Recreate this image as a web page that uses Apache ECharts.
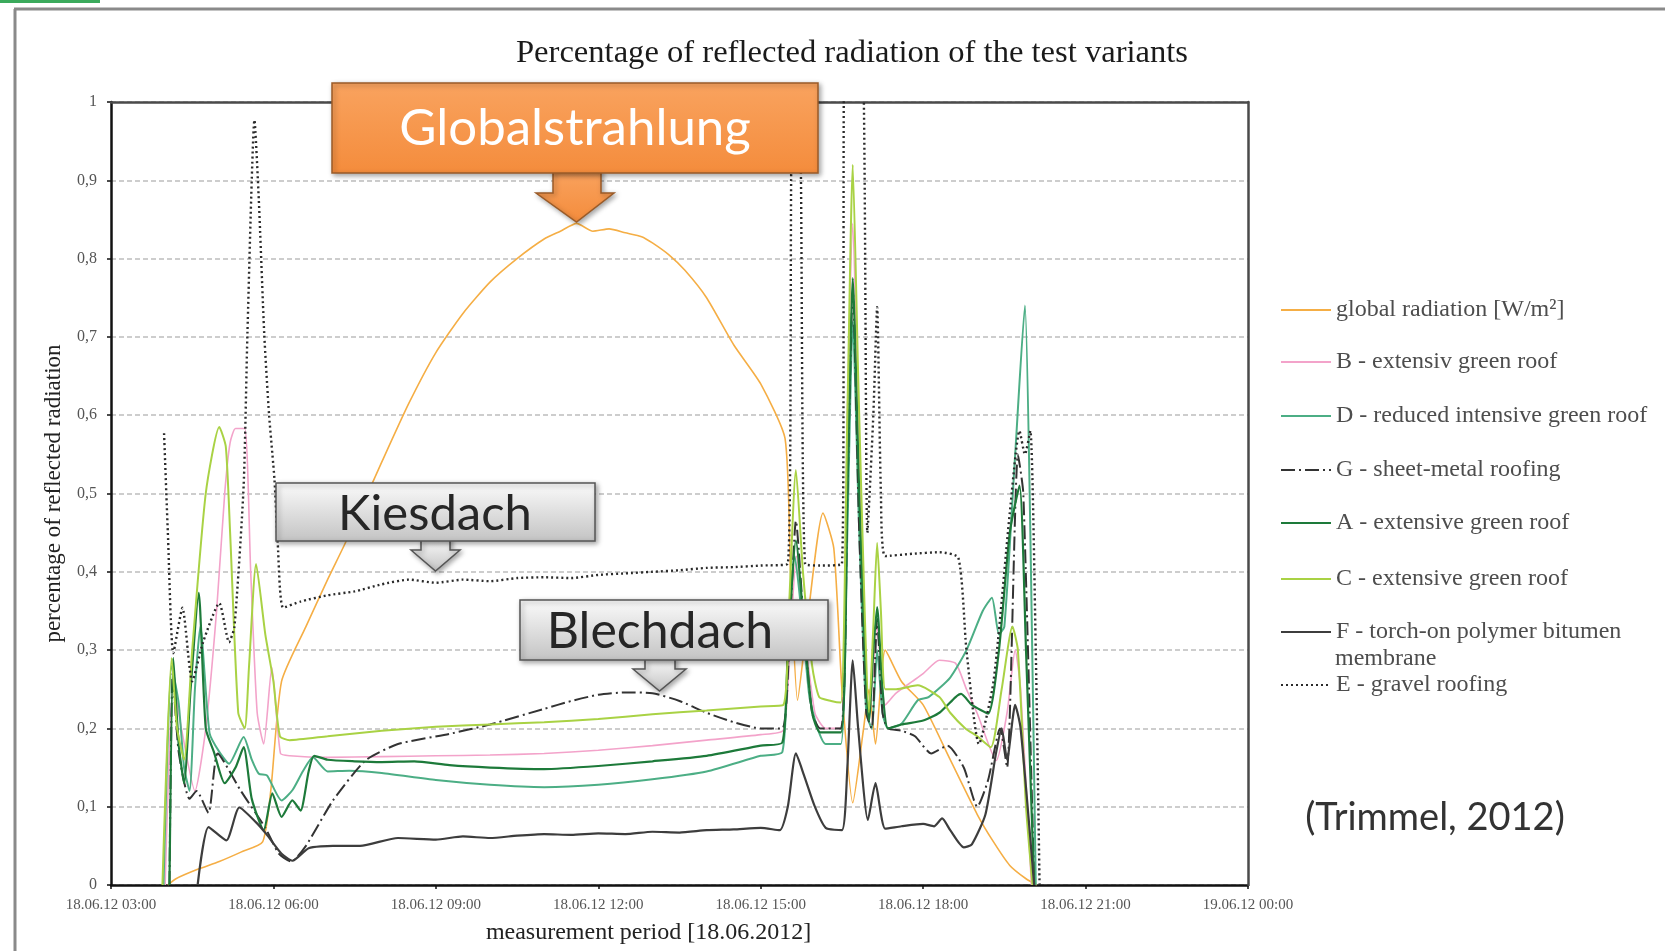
<!DOCTYPE html>
<html>
<head>
<meta charset="utf-8">
<script src="https://cdn.jsdelivr.net/npm/echarts@6/dist/echarts.min.js"></script>
<style>html,body{margin:0;padding:0;background:#fff;}#chart{width:1665px;height:951px;}</style>
</head>
<body>
<div id="chart"></div>
<script>
// ---------- DATA (hour of 18.06.2012, share of reflected radiation) ----------
const xTickLabels = ['18.06.12 03:00','18.06.12 06:00','18.06.12 09:00','18.06.12 12:00','18.06.12 15:00','18.06.12 18:00','18.06.12 21:00','19.06.12 00:00'];
const yTickLabels = ['0','0,1','0,2','0,3','0,4','0,5','0,6','0,7','0,8','0,9','1'];

const seriesNames = [
  'global radiation [W/m²]',
  'B - extensiv green roof',
  'D - reduced intensive green roof',
  'G - sheet-metal roofing',
  'A - extensive green roof',
  'C - extensive green roof',
  'F - torch-on polymer bitumen',
  'E - gravel roofing'
];

const globalRadiation = [[4.05,0],[4.2,0.008],[4.6,0.02],[5.0,0.03],[5.4,0.042],[5.8,0.055],[5.95,0.12],[6.15,0.26],[6.6,0.33],[7.0,0.39],[7.35,0.44],[8.0,0.54],[8.5,0.615],[9.0,0.68],[9.5,0.73],[10.0,0.77],[10.5,0.8],[11.0,0.825],[11.3,0.835],[11.6,0.845],[11.9,0.835],[12.2,0.838],[12.5,0.833],[12.8,0.828],[13.0,0.82],[13.3,0.805],[13.6,0.785],[14.0,0.75],[14.5,0.69],[15.0,0.64],[15.45,0.57],[15.55,0.4],[15.68,0.236],[15.85,0.33],[16.15,0.475],[16.35,0.43],[16.5,0.25],[16.7,0.105],[16.9,0.2],[17.0,0.25],[17.12,0.18],[17.3,0.30],[17.6,0.26],[18.0,0.23],[18.5,0.16],[19.0,0.09],[19.3,0.055],[19.6,0.025],[19.9,0.008],[20.1,0]];

const extensiveB = [[4.0,0],[4.15,0.26],[4.3,0.2],[4.55,0.12],[4.75,0.2],[4.95,0.35],[5.1,0.5],[5.2,0.565],[5.3,0.583],[5.47,0.583],[5.58,0.4],[5.7,0.22],[5.82,0.18],[5.97,0.278],[6.13,0.168],[6.3,0.165],[7,0.163],[8,0.164],[9,0.165],[10,0.166],[11,0.168],[12,0.172],[13,0.178],[14,0.185],[15,0.192],[15.42,0.198],[15.55,0.32],[15.66,0.42],[15.8,0.33],[16.0,0.22],[16.2,0.2],[16.48,0.2],[16.6,0.6],[16.7,0.845],[16.8,0.6],[16.93,0.3],[17.0,0.21],[17.15,0.33],[17.3,0.23],[17.5,0.245],[17.8,0.26],[18.0,0.27],[18.3,0.287],[18.6,0.283],[18.8,0.25],[19.0,0.219],[19.35,0.159],[19.55,0.22],[19.7,0.3],[19.8,0.25],[20.0,0]];

const intensiveD = [[3.97,0],[4.12,0.28],[4.25,0.232],[4.35,0.15],[4.45,0.12],[4.55,0.25],[4.65,0.33],[4.82,0.194],[5.0,0.17],[5.18,0.155],[5.45,0.189],[5.6,0.16],[5.73,0.142],[5.88,0.14],[6.15,0.108],[6.35,0.121],[6.55,0.146],[6.73,0.163],[7.0,0.145],[7.4,0.146],[8,0.143],[9,0.134],[10,0.128],[11,0.125],[12,0.128],[13,0.135],[14,0.145],[15,0.165],[15.4,0.17],[15.5,0.3],[15.63,0.42],[15.75,0.35],[15.9,0.24],[16.05,0.2],[16.2,0.18],[16.48,0.18],[16.6,0.45],[16.7,0.72],[16.82,0.45],[16.95,0.22],[17.05,0.2],[17.15,0.3],[17.25,0.22],[17.35,0.2],[17.6,0.206],[17.9,0.236],[18.1,0.24],[18.5,0.265],[18.8,0.3],[19.1,0.35],[19.27,0.367],[19.4,0.32],[19.5,0.33],[19.7,0.55],[19.88,0.74],[19.98,0.45],[20.08,0]];

const sheetMetalG = [[4.08,0],[4.14,0.27],[4.25,0.17],[4.45,0.11],[4.58,0.12],[4.8,0.092],[4.97,0.168],[5.4,0.12],[5.85,0.073],[6.1,0.04],[6.33,0.03],[6.6,0.05],[7.1,0.108],[7.7,0.159],[8.3,0.18],[9.25,0.193],[10,0.205],[11,0.225],[11.5,0.235],[12,0.243],[12.5,0.246],[13,0.245],[13.5,0.235],[14,0.22],[14.5,0.208],[15,0.2],[15.4,0.2],[15.55,0.35],[15.65,0.465],[15.8,0.33],[15.95,0.22],[16.1,0.2],[16.48,0.2],[16.6,0.5],[16.7,0.76],[16.82,0.45],[16.95,0.22],[17.05,0.2],[17.15,0.34],[17.25,0.22],[17.35,0.2],[17.6,0.197],[17.85,0.19],[18.15,0.168],[18.45,0.178],[18.75,0.15],[19.0,0.1],[19.2,0.134],[19.42,0.2],[19.55,0.15],[19.75,0.55],[19.85,0.5],[20.05,0]];

const extensiveA = [[4.08,0],[4.15,0.29],[4.25,0.18],[4.35,0.13],[4.47,0.25],[4.62,0.373],[4.75,0.2],[4.9,0.17],[5.1,0.13],[5.3,0.15],[5.45,0.176],[5.6,0.11],[5.82,0.07],[5.98,0.117],[6.15,0.087],[6.35,0.108],[6.5,0.095],[6.65,0.145],[6.75,0.165],[7,0.16],[7.5,0.158],[8,0.157],[8.6,0.158],[9.25,0.153],[10,0.15],[11,0.148],[12,0.152],[13,0.158],[14,0.165],[15,0.178],[15.4,0.182],[15.5,0.3],[15.65,0.44],[15.8,0.33],[15.95,0.22],[16.1,0.195],[16.48,0.195],[16.6,0.5],[16.7,0.775],[16.82,0.5],[16.95,0.25],[17.0,0.21],[17.08,0.3],[17.15,0.355],[17.25,0.25],[17.35,0.2],[17.6,0.205],[18.0,0.21],[18.3,0.22],[18.6,0.24],[18.7,0.244],[18.9,0.23],[19.2,0.219],[19.4,0.3],[19.6,0.45],[19.78,0.51],[19.9,0.3],[20.05,0]];

const extensiveC = [[3.95,0],[4.12,0.29],[4.22,0.2],[4.35,0.16],[4.5,0.3],[4.75,0.5],[5.0,0.585],[5.12,0.56],[5.2,0.45],[5.35,0.22],[5.47,0.2],[5.55,0.28],[5.68,0.41],[5.85,0.32],[6.0,0.26],[6.12,0.19],[6.3,0.185],[7.0,0.19],[8.0,0.197],[9.0,0.202],[10.0,0.205],[11.0,0.208],[12.0,0.212],[13.0,0.218],[14.0,0.223],[15.0,0.228],[15.42,0.23],[15.52,0.35],[15.65,0.53],[15.78,0.4],[15.95,0.28],[16.08,0.24],[16.3,0.235],[16.48,0.233],[16.6,0.6],[16.7,0.92],[16.8,0.65],[16.92,0.35],[17.0,0.22],[17.08,0.33],[17.15,0.437],[17.22,0.35],[17.3,0.25],[17.5,0.25],[17.9,0.255],[18.3,0.24],[18.5,0.22],[18.78,0.2],[19.0,0.19],[19.25,0.176],[19.45,0.25],[19.65,0.33],[19.75,0.3],[19.9,0.1],[20.02,0]];

const bitumenF = [[4.6,0],[4.8,0.074],[5.13,0.057],[5.37,0.099],[5.68,0.08],[5.87,0.065],[6.15,0.04],[6.35,0.031],[6.65,0.047],[7.1,0.05],[7.6,0.05],[8.3,0.06],[9,0.058],[9.5,0.062],[10,0.06],[10.5,0.063],[11,0.065],[11.5,0.064],[12,0.066],[12.5,0.065],[13,0.068],[13.5,0.067],[14,0.07],[14.5,0.071],[15,0.073],[15.35,0.07],[15.5,0.1],[15.65,0.168],[15.8,0.14],[16.0,0.1],[16.2,0.073],[16.5,0.07],[16.6,0.15],[16.7,0.287],[16.8,0.2],[16.98,0.083],[17.12,0.13],[17.3,0.072],[17.6,0.075],[18.0,0.078],[18.2,0.075],[18.35,0.085],[18.5,0.07],[18.75,0.048],[18.9,0.052],[19.15,0.09],[19.35,0.17],[19.45,0.2],[19.55,0.16],[19.7,0.23],[19.8,0.2],[20.05,0]];

const gravelE = [[3.98,0.577],[4.05,0.45],[4.15,0.296],[4.32,0.354],[4.5,0.26],[4.7,0.31],[5.0,0.36],[5.18,0.31],[5.28,0.33],[5.45,0.51],[5.52,0.705],[5.65,0.977],[5.73,0.875],[5.83,0.704],[5.92,0.6],[6.02,0.517],[6.08,0.436],[6.18,0.354],[6.5,0.362],[7.0,0.37],[7.5,0.375],[8.0,0.384],[8.5,0.39],[9.0,0.386],[9.5,0.39],[10.0,0.388],[10.5,0.392],[11.0,0.393],[11.5,0.392],[12.0,0.396],[12.5,0.398],[13.0,0.4],[13.5,0.402],[14.0,0.405],[14.5,0.406],[15.0,0.408],[15.5,0.41],[15.58,0.97],[15.72,0.97],[15.82,0.41],[16.1,0.408],[16.5,0.41],[16.56,1.1],[16.86,1.1],[16.97,0.45],[17.08,0.6],[17.15,0.738],[17.22,0.5],[17.3,0.42],[17.8,0.423],[18.3,0.425],[18.65,0.418],[18.8,0.3],[19.03,0.18],[19.3,0.26],[19.6,0.475],[19.78,0.58],[19.88,0.55],[19.98,0.58],[20.08,0.3],[20.15,0]];

const seriesData = [globalRadiation, extensiveB, intensiveD, sheetMetalG, extensiveA, extensiveC, bitumenF, gravelE];

// ---------- STYLES ----------
const lineStyles = [
  {color:'#F5AE45', width:1.6, type:'solid'},
  {color:'#F3A3CA', width:1.6, type:'solid'},
  {color:'#4CAE85', width:2, type:'solid'},
  {color:'#333333', width:2, type:[14,4,2,4]},
  {color:'#1D7A3A', width:2.2, type:'solid'},
  {color:'#A9D244', width:2, type:'solid'},
  {color:'#3d3d3d', width:2.2, type:'solid'},
  {color:'#2b2b2b', width:2.4, type:[2,3]}
];
const legendTops = [298, 350, 404, 458, 511, 567, 620, 673];
const serif = 'Liberation Serif';

const chart = echarts.init(document.getElementById('chart'), null, {renderer:'canvas'});

const orangeGrad = new echarts.graphic.LinearGradient(0,0,0,1,[{offset:0,color:'#F9A35F'},{offset:1,color:'#F48C3C'}]);
const grayGrad = () => new echarts.graphic.LinearGradient(0,0,0,1,[{offset:0,color:'#FBFBFB'},{offset:1,color:'#C3C3C3'}]);
const shadow = {shadowBlur:5, shadowOffsetX:2, shadowOffsetY:2, shadowColor:'rgba(0,0,0,0.35)'};

function txt(x, y, text, font, fill, align) {
  return {type:'text', x:x, y:y, z:120, style:{text:text, font:font, fill:fill, align:align||'center', textAlign:align||'center', verticalAlign:'middle', textVerticalAlign:'middle'}};
}

const frameAxis = {
  axisLine:{show:true, onZero:false, lineStyle:{color:'#4a4a4a', width:2.5}},
  axisTick:{show:false}, axisLabel:{show:false}, splitLine:{show:false}
};

const option = {
  animation:false,
  backgroundColor:'#ffffff',
  title:{
    text:'Percentage of reflected radiation of the test variants',
    left:847, top:32, textAlign:'center',
    textStyle:{fontFamily:serif, fontSize:32.6, fontWeight:'normal', color:'#1a1a1a'}
  },
  grid:{left:111, right:417, top:102, bottom:66, show:false},
  xAxis:[{
    type:'value', min:3, max:24, interval:3, z:2,
    name:'measurement period [18.06.2012]', nameLocation:'middle', nameGap:36,
    nameTextStyle:{fontFamily:serif, fontSize:24, color:'#222', padding:[0,62,0,0]},
    axisLine:{show:true, lineStyle:{color:'#111', width:2.5}},
    axisTick:{show:true, length:4, lineStyle:{color:'#111', width:1.5}},
    axisLabel:{margin:13, fontFamily:serif, fontSize:15, color:'#555', showMinLabel:true, showMaxLabel:true,
      formatter:v => xTickLabels[Math.round((v-3)/3)]},
    splitLine:{show:false}
  }, Object.assign({type:'value', min:3, max:24, interval:3, position:'top', z:6}, frameAxis)],
  yAxis:[{
    type:'value', min:0, max:1, interval:0.1, z:1,
    name:'percentage of reflected radiation', nameLocation:'middle', nameGap:46, nameRotate:90,
    nameTextStyle:{fontFamily:serif, fontSize:23, color:'#222'},
    axisLine:{show:true, lineStyle:{color:'#111', width:2.5}},
    axisTick:{show:true, length:4, lineStyle:{color:'#111', width:1.5}},
    axisLabel:{margin:14, fontFamily:serif, fontSize:16, color:'#555',
      formatter:v => yTickLabels[Math.round(v*10)]},
    splitLine:{show:true, lineStyle:{color:'#bdbdbd', width:1.5, type:[5,3]}}
  }, Object.assign({type:'value', min:0, max:1, interval:0.1, position:'right', z:6}, frameAxis)],
  legend: seriesNames.map((n,i)=>({
    data:[n], left:1280, top:legendTops[i], orient:'vertical', padding:0,
    itemWidth:50, itemHeight:14, selectedMode:false,
    itemStyle:{opacity:0, borderWidth:0},
    textStyle:{fontFamily:serif, fontSize:24, color:'#4d4d4d'}
  })),
  series: seriesNames.map((n,i)=>({
    name:n, type:'line', data:seriesData[i], symbol:'none', showSymbol:false,
    smooth:0.2, clip:true, z:2+i,
    lineStyle:{color:lineStyles[i].color, width:lineStyles[i].width, type:lineStyles[i].type, cap:'butt'},
    itemStyle:{color:lineStyles[i].color}
  })),
  graphic:{elements:[
    {type:'rect', shape:{x:0,y:0,width:100,height:3}, style:{fill:'#3BAA5C'}, z:200},
    {type:'line', shape:{x1:15,y1:9,x2:15,y2:951}, style:{stroke:'#8a8a8a', lineWidth:3}, z:50},
    {type:'line', shape:{x1:14,y1:9,x2:1665,y2:9}, style:{stroke:'#8a8a8a', lineWidth:3}, z:50},
    // Globalstrahlung call-out
    {type:'polygon', shape:{points:[[553,170],[601,170],[601,193],[614,193],[576.5,222],[536,193],[553,193]]}, style:Object.assign({fill:orangeGrad, stroke:'#9A5B28', lineWidth:1.5}, shadow), z:100},
    {type:'rect', shape:{x:332,y:83,width:486,height:90}, style:Object.assign({fill:orangeGrad, stroke:'#9A5B28', lineWidth:1.5}, shadow), z:101},
    txt(575, 129, 'Globalstrahlung', '51px Lato', '#ffffff'),
    // Kiesdach call-out
    {type:'polygon', shape:{points:[[421,539],[450,539],[450,550],[460,550],[435.5,571],[411,550],[421,550]]}, style:Object.assign({fill:grayGrad(), stroke:'#555', lineWidth:1.5}, shadow), z:100},
    {type:'rect', shape:{x:276,y:483,width:319,height:58}, style:Object.assign({fill:grayGrad(), stroke:'#555', lineWidth:1.5}, shadow), z:101},
    txt(435, 514, 'Kiesdach', '49px Lato', '#262626'),
    // Blechdach call-out
    {type:'polygon', shape:{points:[[645,658],[675,658],[675,669],[686,669],[659.5,691],[633,669],[645,669]]}, style:Object.assign({fill:grayGrad(), stroke:'#555', lineWidth:1.5}, shadow), z:100},
    {type:'rect', shape:{x:520,y:600,width:308,height:60}, style:Object.assign({fill:grayGrad(), stroke:'#555', lineWidth:1.5}, shadow), z:101},
    txt(660, 632, 'Blechdach', '50px Lato', '#262626'),
    // legend continuation + source
    txt(1335, 659, 'membrane', '24px "Liberation Serif"', '#4d4d4d', 'left'),
    txt(1435, 818, '(Trimmel, 2012)', '38px Lato', '#333333')
  ]}
};
chart.setOption(option);
</script>
</body>
</html>
